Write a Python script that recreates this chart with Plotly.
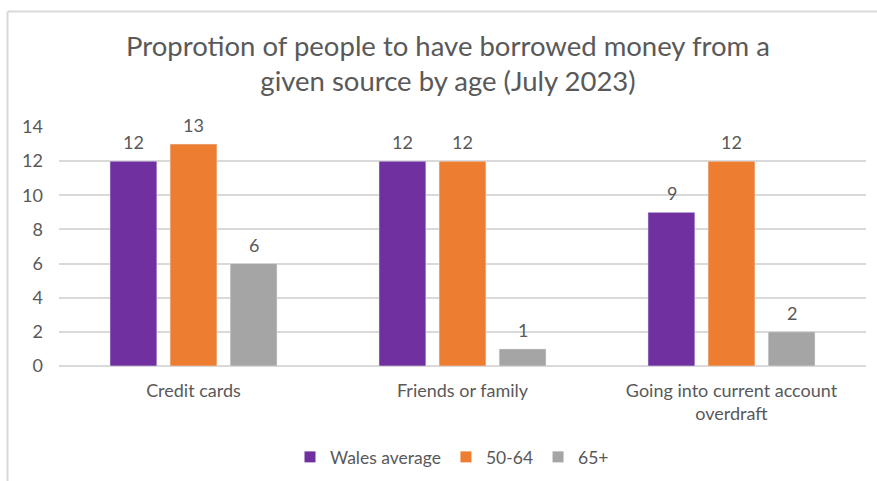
import plotly.graph_objects as go

categories = ["Credit cards", "Friends or family", "Going into current account<br>overdraft"]
wales_average = [12, 12, 9]
age_50_64 = [13, 12, 12]
age_65_plus = [6, 1, 2]
y_ticks = [0, 2, 4, 6, 8, 10, 12, 14]

W, H = 877, 481
ML, MR, MT, MB = 59, 11, 127, 115
PW, PH = W - ML - MR, H - MT - MB
FONT = "Lato, Open Sans, sans-serif"
TEXT_COLOR = "#595959"

series = [
    ("Wales average", wales_average, "#7030A0"),
    ("50-64", age_50_64, "#ED7D31"),
    ("65+", age_65_plus, "#A5A5A5"),
]

fig = go.Figure()
offsets = [-60, 0, 60]
for (name, vals, color), dx in zip(series, offsets):
    fig.add_trace(go.Bar(
        name=name, x=categories, y=vals, marker_color=color,
        showlegend=False, hoverinfo="x+y",
    ))
    # value labels above each bar
    for cat, v in zip(categories, vals):
        fig.add_annotation(
            x=cat, y=v, text=str(v), showarrow=False,
            xshift=dx, yshift=19, yanchor="middle",
            font=dict(size=18, color=TEXT_COLOR, family=FONT),
        )
    # legend key: small square swatch
    fig.add_trace(go.Scatter(
        name=name, x=[None], y=[None], mode="markers",
        marker=dict(symbol="square", size=11, color=color),
    ))


def px_x(p):
    return (p - ML) / PW


def px_y(p):
    return (H - MB - p) / PH


# Chart-area frame (left and top edges)
fig.add_shape(type="line", xref="paper", yref="paper",
              x0=px_x(7.5), x1=px_x(W), y0=px_y(11.5), y1=px_y(11.5),
              line=dict(color="#D9D9D9", width=2))
fig.add_shape(type="line", xref="paper", yref="paper",
              x0=px_x(7.5), x1=px_x(7.5), y0=px_y(11.5), y1=px_y(H),
              line=dict(color="#D9D9D9", width=2))

fig.update_layout(
    width=W, height=H,
    margin=dict(l=ML, r=MR, t=MT, b=MB, autoexpand=False),
    paper_bgcolor="white", plot_bgcolor="white",
    font=dict(family=FONT, color=TEXT_COLOR),
    barmode="group", bargap=0.33, bargroupgap=0.22,
    title=dict(
        text="Proprotion of people to have borrowed money from a<br>given source by age (July 2023)",
        x=px_x(448), xanchor="center", xref="paper",
        y=1 - 55.5 / H, yanchor="middle", yref="container",
        font=dict(size=27.5, color=TEXT_COLOR),
    ),
    xaxis=dict(showgrid=False, showline=False, ticks="", automargin=False,
               tickfont=dict(size=18, color=TEXT_COLOR),
               ticklabelstandoff=12),
    yaxis=dict(range=[0, 14], tickvals=y_ticks, showgrid=True, automargin=False,
               gridcolor="#D9D9D9", gridwidth=1.5, zeroline=True,
               zerolinecolor="#D9D9D9", zerolinewidth=1.5,
               ticks="", tickfont=dict(size=18, color=TEXT_COLOR),
               ticklabelstandoff=15),
    legend=dict(orientation="h", x=px_x(452), xanchor="center",
                y=px_y(457), yanchor="middle",
                font=dict(size=17.5, color=TEXT_COLOR),
                itemwidth=30, traceorder="normal"),
    showlegend=True,
)

fig.write_html("out.html")
